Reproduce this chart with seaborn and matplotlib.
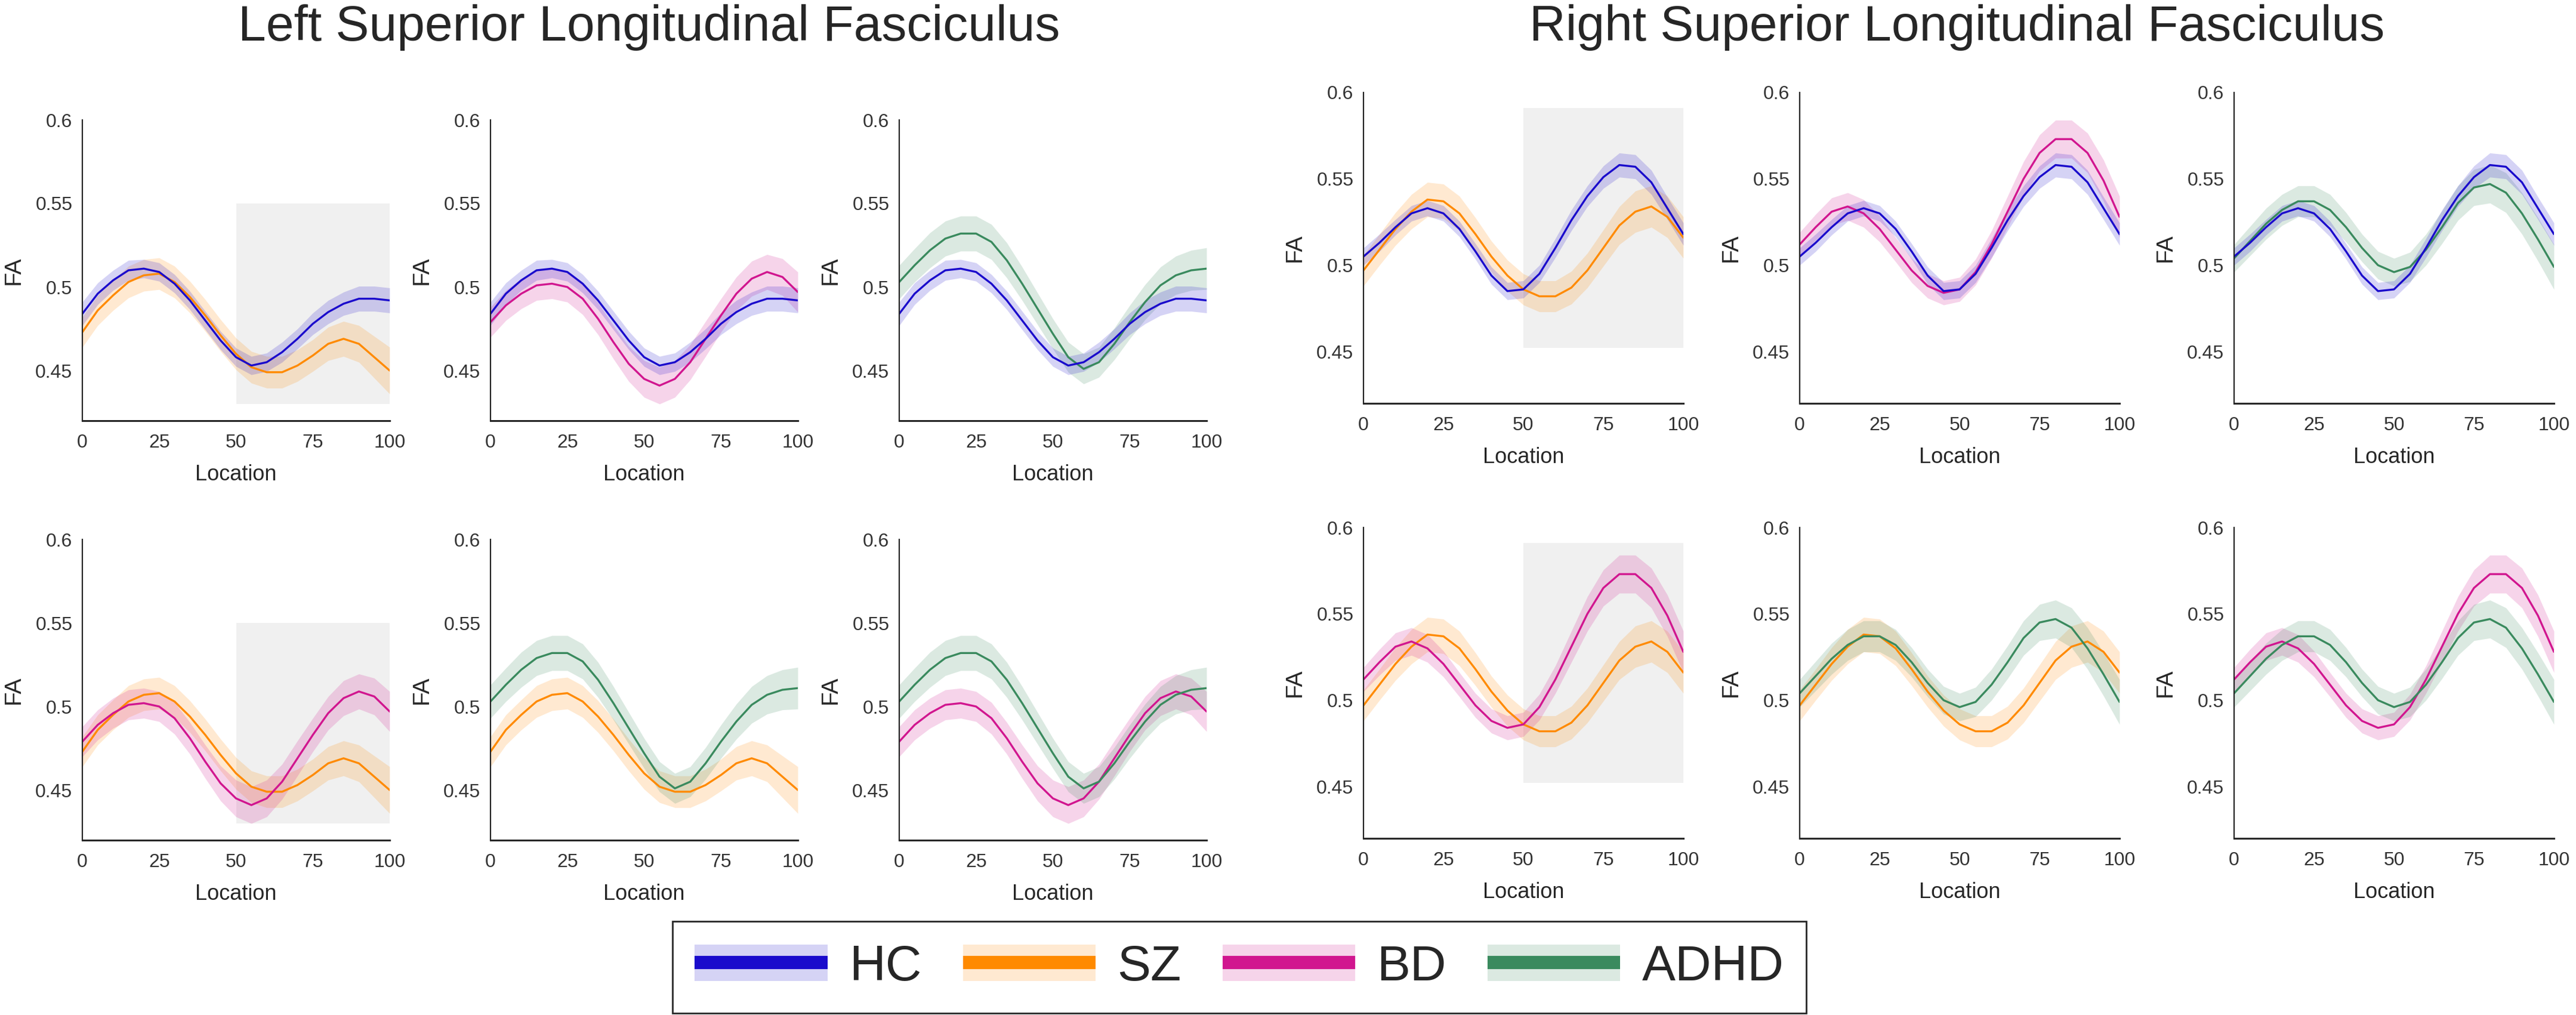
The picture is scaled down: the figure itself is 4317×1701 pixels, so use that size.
import numpy as np
import pandas as pd
import matplotlib.pyplot as plt
import seaborn as sns
from matplotlib.patches import Patch, Rectangle
from matplotlib.lines import Line2D
from matplotlib.legend_handler import HandlerTuple

# ---------- DATA ----------

location = list(range(0, 101, 5))
groups = ["HC", "SZ", "BD", "ADHD"]
colors = {"HC": "#1A0BCC", "SZ": "#FF8A00", "BD": "#D1168F", "ADHD": "#3A8A5E"}

# left SLF: mean FA and half width of the band
left_hc = [0.484, 0.496, 0.504, 0.510, 0.511, 0.509, 0.502, 0.492, 0.480, 0.468, 0.458,
           0.453, 0.455, 0.461, 0.469, 0.478, 0.485, 0.490, 0.493, 0.493, 0.492]
left_sz = [0.473, 0.486, 0.495, 0.503, 0.507, 0.508, 0.503, 0.494, 0.483, 0.471, 0.460,
           0.452, 0.449, 0.449, 0.453, 0.459, 0.466, 0.469, 0.466, 0.458, 0.450]
left_bd = [0.479, 0.489, 0.496, 0.501, 0.502, 0.500, 0.493, 0.481, 0.467, 0.454, 0.445,
           0.441, 0.445, 0.455, 0.469, 0.483, 0.496, 0.505, 0.509, 0.506, 0.497]
left_adhd = [0.503, 0.513, 0.522, 0.529, 0.532, 0.532, 0.527, 0.516, 0.502, 0.487, 0.472,
             0.458, 0.451, 0.455, 0.466, 0.479, 0.491, 0.501, 0.507, 0.510, 0.511]

left_hc_ci = [0.007, 0.0065, 0.006, 0.006, 0.0055, 0.0055, 0.0055, 0.0055, 0.0055, 0.0055, 0.0055,
              0.0055, 0.0055, 0.006, 0.006, 0.0065, 0.007, 0.007, 0.0075, 0.0075, 0.0075]
left_sz_ci = [0.009, 0.009, 0.009, 0.0095, 0.0095, 0.0095, 0.0095, 0.0095, 0.0095, 0.0095, 0.0095,
              0.0095, 0.0095, 0.0095, 0.0095, 0.0095, 0.010, 0.0105, 0.011, 0.0125, 0.014]
left_bd_ci = [0.009, 0.009, 0.009, 0.009, 0.009, 0.009, 0.0095, 0.0095, 0.010, 0.0105, 0.011,
              0.011, 0.011, 0.0105, 0.0105, 0.010, 0.010, 0.0105, 0.0105, 0.011, 0.012]
left_adhd_ci = [0.010, 0.010, 0.0105, 0.0105, 0.0105, 0.0105, 0.0105, 0.0105, 0.010, 0.0095, 0.009,
                0.009, 0.009, 0.009, 0.0095, 0.010, 0.0105, 0.011, 0.0115, 0.012, 0.0125]

# right SLF
right_hc = [0.505, 0.513, 0.522, 0.530, 0.533, 0.530, 0.521, 0.508, 0.494, 0.485, 0.486,
            0.495, 0.510, 0.526, 0.540, 0.551, 0.558, 0.557, 0.548, 0.533, 0.518]
right_sz = [0.497, 0.509, 0.521, 0.531, 0.538, 0.537, 0.530, 0.518, 0.505, 0.494, 0.486,
            0.482, 0.482, 0.487, 0.497, 0.510, 0.523, 0.531, 0.534, 0.528, 0.516]
right_bd = [0.512, 0.522, 0.531, 0.534, 0.530, 0.521, 0.509, 0.497, 0.488, 0.484, 0.486,
            0.496, 0.512, 0.531, 0.550, 0.565, 0.573, 0.573, 0.565, 0.549, 0.528]
right_adhd = [0.504, 0.514, 0.524, 0.532, 0.537, 0.537, 0.532, 0.522, 0.510, 0.500, 0.496,
              0.499, 0.509, 0.522, 0.536, 0.545, 0.547, 0.542, 0.530, 0.515, 0.499]

right_hc_ci = [0.005, 0.005, 0.0045, 0.0045, 0.0045, 0.0045, 0.0045, 0.0045, 0.005, 0.005, 0.005,
               0.005, 0.0055, 0.006, 0.006, 0.0065, 0.007, 0.007, 0.007, 0.0065, 0.0065]
right_sz_ci = [0.009, 0.009, 0.0095, 0.010, 0.010, 0.010, 0.010, 0.0095, 0.009, 0.009, 0.009,
               0.009, 0.009, 0.0095, 0.010, 0.0105, 0.011, 0.012, 0.012, 0.012, 0.012]
right_bd_ci = [0.007, 0.0075, 0.008, 0.008, 0.008, 0.0075, 0.007, 0.007, 0.007, 0.007, 0.007,
               0.0075, 0.008, 0.009, 0.010, 0.0105, 0.011, 0.011, 0.0115, 0.012, 0.012]
right_adhd_ci = [0.008, 0.0085, 0.009, 0.009, 0.009, 0.009, 0.009, 0.0085, 0.008, 0.008, 0.008,
                 0.0085, 0.009, 0.0095, 0.010, 0.0105, 0.011, 0.0115, 0.012, 0.0125, 0.013]

# which pair of groups goes in each panel (row by row)
panel_pairs = [[("HC", "SZ"), ("HC", "BD"), ("HC", "ADHD")],
               [("BD", "SZ"), ("ADHD", "SZ"), ("ADHD", "BD")]]

# grey highlight in the first column (FA range)
left_box = (0.43, 0.55)
right_box = (0.452, 0.591)

x_ticks = [0, 25, 50, 75, 100]
y_ticks = [0.45, 0.5, 0.55, 0.6]
y_ticklabels = ["0.45", "0.5", "0.55", "0.6"]


def make_table(means, cis):
    rows = []
    for g in groups:
        for loc, m, c in zip(location, means[g], cis[g]):
            rows.append({"Location": loc, "Group": g, "FA": m, "ci": c})
    return pd.DataFrame(rows)


left_df = make_table(
    {"HC": left_hc, "SZ": left_sz, "BD": left_bd, "ADHD": left_adhd},
    {"HC": left_hc_ci, "SZ": left_sz_ci, "BD": left_bd_ci, "ADHD": left_adhd_ci},
)
right_df = make_table(
    {"HC": right_hc, "SZ": right_sz, "BD": right_bd, "ADHD": right_adhd},
    {"HC": right_hc_ci, "SZ": right_sz_ci, "BD": right_bd_ci, "ADHD": right_adhd_ci},
)

# ---------- STYLE ----------

sns.set_theme(style="white")
plt.rcParams["font.family"] = ["Liberation Sans", "DejaVu Sans"]

W, H = 4317, 1701
fig = plt.figure(figsize=(W / 100, H / 100), dpi=100)


def px_axes(left, top, width, height):
    return fig.add_axes([left / W, 1 - (top + height) / H, width / W, height / H])


def draw_panel(ax, df, pair, box):
    if box is not None:
        ax.add_patch(Rectangle((50, box[0]), 50, box[1] - box[0], facecolor="#F0F0F0",
                               edgecolor="none", zorder=0.5))
    for g in reversed(pair):
        sub = df[df["Group"] == g]
        ax.fill_between(sub["Location"], sub["FA"] - sub["ci"], sub["FA"] + sub["ci"],
                        color=colors[g], alpha=0.18, lw=0, zorder=1)
    for g in reversed(pair):
        sub = df[df["Group"] == g]
        sns.lineplot(data=sub, x="Location", y="FA", color=colors[g], lw=2.4, ax=ax,
                     legend=False, zorder=2)
    ax.set_xlim(0, 100)
    ax.set_ylim(0.42, 0.6)
    ax.set_xticks(x_ticks)
    ax.set_yticks(y_ticks)
    ax.set_yticklabels(y_ticklabels)
    for s in ["top", "right"]:
        ax.spines[s].set_visible(False)
    ax.spines["left"].set_linewidth(1.6)
    ax.spines["bottom"].set_linewidth(2.2)
    ax.spines["left"].set_color("#262626")
    ax.spines["bottom"].set_color("#262626")
    ax.tick_params(direction="in", length=4, width=1.5, color="#262626",
                   labelsize=23, labelcolor="#333333")
    ax.tick_params(axis="x", pad=16)
    ax.tick_params(axis="y", pad=12)
    ax.set_xlabel("Location", fontsize=26, color="#262626", labelpad=15)
    ax.set_ylabel("FA", fontsize=28, color="#262626", labelpad=13)


# ---------- PANELS ----------

left_cols = [138, 822, 1507]
right_cols = [2285, 3016, 3744]
left_rows = [201, 904]
right_rows = [155, 884]

for r in range(2):
    for c in range(3):
        ax = px_axes(left_cols[c], left_rows[r], 515, 504)
        draw_panel(ax, left_df, panel_pairs[r][c], left_box if c == 0 else None)
        ax = px_axes(right_cols[c], right_rows[r], 536, 521)
        draw_panel(ax, right_df, panel_pairs[r][c], right_box if c == 0 else None)

fig.text(1088 / W, 1 - 68 / H, "Left Superior Longitudinal Fasciculus",
         ha="center", va="baseline", fontsize=60.5)
fig.text(3280 / W, 1 - 68 / H, "Right Superior Longitudinal Fasciculus",
         ha="center", va="baseline", fontsize=60.5)

# ---------- LEGEND ----------

handles = []
for g in groups:
    band = Patch(facecolor=colors[g], alpha=0.18, edgecolor="none")
    line = Line2D([], [], color=colors[g], lw=16, solid_capstyle="butt")
    handles.append((band, line))

leg = fig.legend(handles, groups, handler_map={tuple: HandlerTuple(ndivide=1)},
                 loc="center", bbox_to_anchor=(2077 / W, 1 - 1621 / H), ncol=4,
                 fontsize=60.5, handlelength=2.65, handleheight=0.74, handletextpad=0.43,
                 columnspacing=0.82, borderpad=0.45, fancybox=False, framealpha=1,
                 edgecolor="#262626")
leg.get_frame().set_linewidth(2.0)

fig.savefig("out.png", dpi=100)
